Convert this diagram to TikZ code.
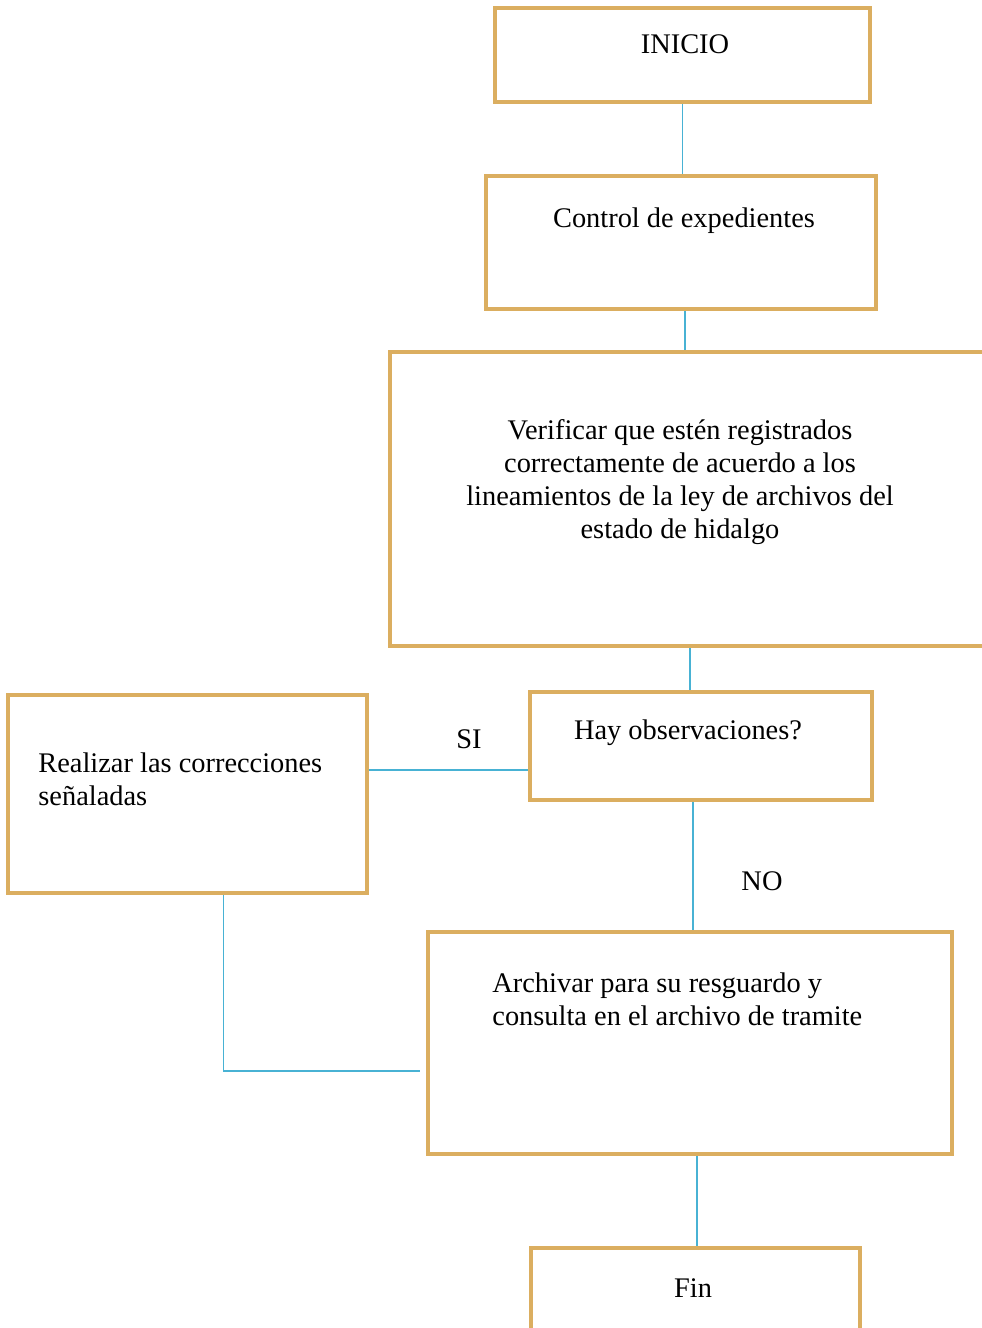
\documentclass[tikz,border=0pt]{standalone}
\usepackage{fontspec}
\setmainfont{Liberation Serif}
\definecolor{boxgold}{RGB}{219,174,96}
\definecolor{linkcyan}{RGB}{72,178,212}
\begin{document}
\begin{tikzpicture}[x=0.5pt,y=-0.5pt,
        box/.style={draw=boxgold,line width=2pt,inner sep=0pt},
        link/.style={draw=linkcyan,line width=0.75pt},
        txt/.style={font=\fontsize{14.2}{16.4}\selectfont,inner sep=0pt}]
            \useasboundingbox (0,0) rectangle (981,1328);

            % boxes
            \node[box,minimum width=187.5pt,minimum height=47pt] (inicio) at (682.5,55) {};
            \node[box,minimum width=195pt,minimum height=66.5pt] (control) at (681,242.5) {};
            \node[box,minimum width=300pt,minimum height=147pt] (verificar) at (690,499) {};
            \node[box,minimum width=171pt,minimum height=54pt] (hay) at (701,746) {};
            \node[box,minimum width=179.5pt,minimum height=99pt] (realizar) at (187.5,794) {};
            \node[box,minimum width=262pt,minimum height=111pt] (archivar) at (690,1043) {};
            \node[box,minimum width=164.5pt,minimum height=46pt] (fin) at (695.5,1294) {};

            % texts
            \node[txt] (inicio-t) at (685,44) {INICIO};
            \node[txt] (control-t) at (684,221) {Control de expedientes};
            \node[txt,align=center] (verificar-t) at (680,482) {Verificar que estén registrados\\correctamente de acuerdo a los\\lineamientos de la ley de archivos del\\estado de hidalgo};
            \node[txt] (hay-t) at (688,733) {Hay observaciones?};
            \node[txt,align=left,anchor=west] (realizar-t) at (38,779) {Realizar las correcciones\\señaladas};
            \node[txt,align=left,anchor=west] (archivar-t) at (492,999) {Archivar para su resguardo y\\consulta en el archivo de tramite};
            \node[txt] (fin-t) at (693,1288) {Fin};
            \node[txt] (si) at (469,739) {SI};
            \node[txt] (no) at (762,881) {NO};

            % connectors
            \coordinate (back) at (420,1071);
            \draw[link] (inicio.south) -- (inicio.south |- control.north);
            \draw[link] ([xshift=2pt]control.south) -- ([xshift=2pt]control.south |- verificar.north);
            \draw[link] (verificar.south) -- (verificar.south |- hay.north);
            \draw[link] ([yshift=-12pt]hay.west) -- ([yshift=-12pt]hay.west -| realizar.east);
            \draw[link] ([xshift=-4pt]hay.south) -- ([xshift=-4pt]hay.south |- archivar.north);
            \draw[link] ([xshift=18pt]realizar.south) |- (back);
            \draw[link] ([xshift=3.5pt]archivar.south) -- ([xshift=3.5pt]archivar.south |- fin.north);
        \end{tikzpicture}
\end{document}
